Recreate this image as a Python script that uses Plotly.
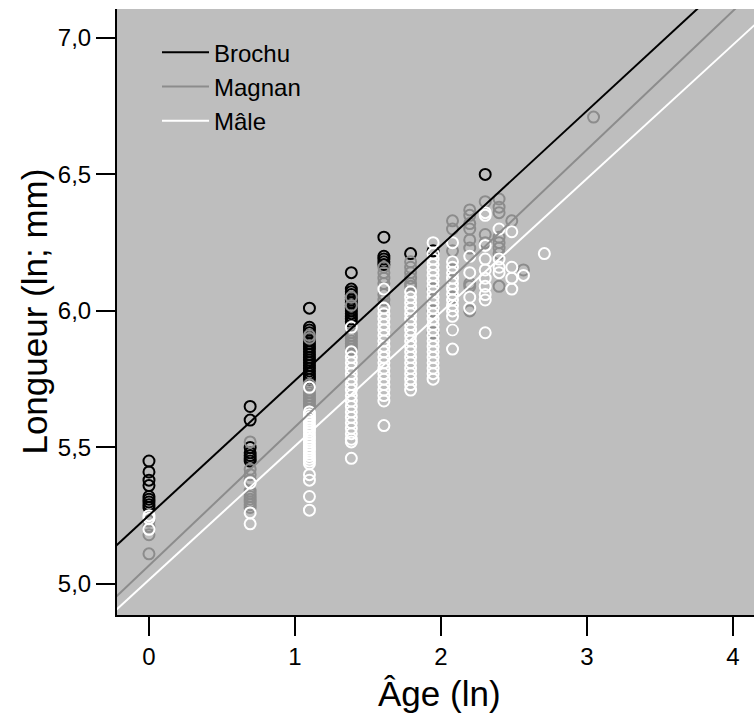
import plotly.graph_objects as go

# ---- data ----
brochu_age = [0]*9 + [0.693]*7 + [1.099]*21 + [1.386]*14 + [1.609]*5 + [1.792, 1.946, 2.303]
brochu_len = [5.45, 5.41, 5.38, 5.36, 5.32, 5.31, 5.30, 5.29, 5.28,
              5.65, 5.60, 5.50, 5.48, 5.47, 5.46, 5.45,
              6.01, 5.94, 5.93, 5.92, 5.91, 5.90, 5.89, 5.88, 5.87, 5.86, 5.85,
              5.84, 5.83, 5.82, 5.81, 5.80, 5.79, 5.78, 5.77, 5.76, 5.75,
              6.14, 6.08, 6.07, 6.06, 6.05, 6.04, 6.03, 6.02, 6.01, 6.00, 5.99, 5.98, 5.97, 5.96,
              6.27, 6.20, 6.19, 6.18, 6.17,
              6.21, 6.22, 6.50]

magnan_age = ([0]*4 + [0.693]*11 + [1.099]*12 + [1.386]*10 + [1.609]*7 + [1.792]*6 +
              [1.946]*3 + [2.079]*6 + [2.197]*9 + [2.303]*3 + [2.398]*8 +
              [2.485, 2.565, 3.045])
magnan_len = [5.23, 5.18, 5.11, 5.21,
              5.52, 5.42, 5.40, 5.38, 5.34, 5.33, 5.32, 5.31, 5.30, 5.29, 5.28,
              5.91, 5.90, 5.73, 5.72, 5.71, 5.70, 5.69, 5.68, 5.67, 5.66, 5.65, 5.64,
              6.05, 6.02, 5.92, 5.91, 5.90, 5.89, 5.88, 5.87, 5.86, 5.85,
              6.16, 6.14, 6.12, 6.10, 6.06, 6.04, 6.02,
              6.18, 6.16, 6.14, 6.12, 6.10, 6.09,
              6.08, 6.00, 5.92,
              6.33, 6.30, 6.22, 6.15, 6.05, 5.93,
              6.37, 6.35, 6.32, 6.30, 6.26, 6.23, 6.10, 6.09, 6.00,
              6.40, 6.28, 6.25,
              6.41, 6.38, 6.36, 6.27, 6.25, 6.23, 6.21, 6.09,
              6.33, 6.15, 6.71]

male_age = ([0]*3 + [0.693]*3 + [1.099]*25 + [1.386]*20 + [1.609]*20 + [1.792]*19 +
            [1.946]*25 + [2.079]*14 + [2.197]*4 + [2.303]*10 + [2.398]*4 +
            [2.485]*4 + [2.565, 2.708])
male_len = [5.25, 5.24, 5.20,
            5.37, 5.26, 5.22,
            5.72, 5.63, 5.62, 5.61, 5.60, 5.59, 5.58, 5.57, 5.56, 5.55, 5.54, 5.53,
            5.52, 5.51, 5.50, 5.49, 5.48, 5.47, 5.46, 5.45, 5.44, 5.40, 5.38, 5.32, 5.27,
            5.94, 5.85, 5.83, 5.81, 5.79, 5.77, 5.75, 5.73, 5.71, 5.69, 5.67, 5.65,
            5.63, 5.61, 5.59, 5.57, 5.55, 5.53, 5.52, 5.46,
            6.08, 6.01, 5.99, 5.97, 5.95, 5.93, 5.91, 5.89, 5.87, 5.85, 5.83, 5.81,
            5.79, 5.77, 5.75, 5.73, 5.71, 5.69, 5.67, 5.58,
            6.07, 6.05, 6.03, 6.01, 5.99, 5.97, 5.95, 5.93, 5.91, 5.89, 5.87, 5.85,
            5.83, 5.81, 5.79, 5.77, 5.75, 5.73, 5.71,
            6.25, 6.21, 6.19, 6.17, 6.15, 6.13, 6.11, 6.09, 6.07, 6.05, 6.03, 6.01,
            5.99, 5.97, 5.95, 5.93, 5.91, 5.89, 5.87, 5.85, 5.83, 5.81, 5.79, 5.77, 5.75,
            6.25, 6.18, 6.16, 6.14, 6.12, 6.10, 6.08, 6.06, 6.04, 6.02, 6.00, 5.98, 5.93, 5.86,
            6.20, 6.14, 6.05, 6.01,
            6.36, 6.35, 6.24, 6.19, 6.15, 6.12, 6.09, 6.06, 6.04, 5.92,
            6.30, 6.19, 6.16, 6.14,
            6.29, 6.16, 6.12, 6.08,
            6.13, 6.21]

groups = ["Brochu", "Magnan", "Mâle"]
intercepts = [5.251, 5.067, 5.015]
slopes = [0.494, 0.508, 0.490]

x_ticks = [0, 1, 2, 3, 4]
x_ticktext = ["0", "1", "2", "3", "4"]
y_ticks = [5.0, 5.5, 6.0, 6.5, 7.0]
y_ticktext = ["5,0", "5,5", "6,0", "6,5", "7,0"]

x_range = [-0.219, 4.144]
y_range = [4.886, 7.106]

colors = ["#000000", "#8C8C8C", "#FFFFFF"]
FONT = "Liberation Sans, Arial, Helvetica, sans-serif"

fig = go.Figure()
for ages, lens, col, name in zip([brochu_age, magnan_age, male_age],
                                 [brochu_len, magnan_len, male_len], colors, groups):
    fig.add_trace(go.Scatter(
        x=ages, y=lens, mode="markers", showlegend=False, name=name,
        marker=dict(symbol="circle-open", size=11, color=col, line=dict(width=2, color=col)),
        cliponaxis=True))

line_x = [x_range[0] - 0.2, x_range[1] + 0.2]
for i, (a, b, col, name) in enumerate(zip(intercepts, slopes, colors, groups)):
    fig.add_trace(go.Scatter(
        x=line_x, y=[a + b * xx for xx in line_x], mode="lines", name=name,
        legendgroup=f"g{i}", line=dict(color=col, width=2)))

fig.update_layout(
    width=754, height=717,
    margin=dict(l=117, r=0, t=9, b=102),
    paper_bgcolor="white", plot_bgcolor="#BEBEBE",
    font=dict(family=FONT, size=24, color="black"),
    showlegend=True,
    legend=dict(x=0.0628, y=0.965, xanchor="left", yanchor="top",
                bgcolor="rgba(0,0,0,0)", font=dict(size=24),
                tracegroupgap=0, itemwidth=47),
    xaxis=dict(range=x_range, tickvals=x_ticks, ticktext=x_ticktext,
               showgrid=False, zeroline=False, showline=True, linecolor="black",
               linewidth=2, ticks="outside", ticklen=19, tickwidth=2, tickcolor="black",
               tickfont=dict(size=24), mirror=False),
    yaxis=dict(range=y_range, tickvals=y_ticks, ticktext=y_ticktext,
               showgrid=False, zeroline=False, showline=True, linecolor="black",
               linewidth=2, ticks="outside", ticklen=19, tickwidth=2, tickcolor="black",
               tickfont=dict(size=24), mirror=False),
    annotations=[
        dict(text="Âge (ln)", xref="paper", yref="paper", x=0.507, y=-0.13,
             xanchor="center", yanchor="middle", showarrow=False, font=dict(size=35)),
        dict(text="Longueur (ln; mm)", xref="paper", yref="paper", x=-0.13, y=0.501,
             xanchor="center", yanchor="middle", textangle=-90, showarrow=False,
             font=dict(size=35)),
    ],
)

fig.write_html("out.html", config={"displayModeBar": False},
               post_script="document.body.style.margin='0';document.body.style.overflow='hidden';")
